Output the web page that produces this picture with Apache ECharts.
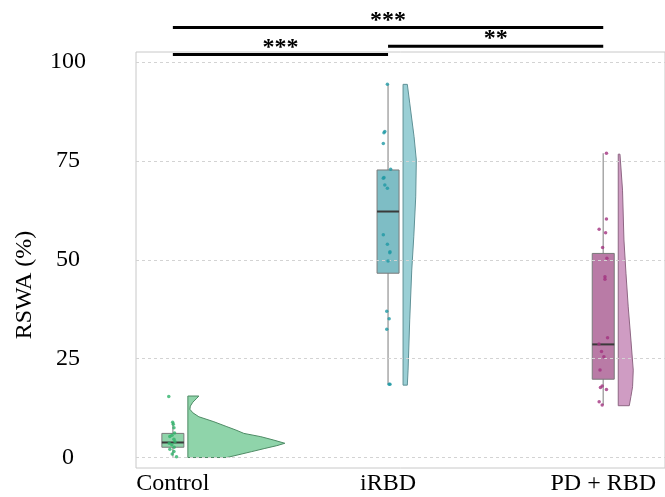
<!DOCTYPE html>
<html><head><meta charset="utf-8">
<script src="https://cdn.jsdelivr.net/npm/echarts@6/dist/echarts.min.js"></script>
<style>html,body{margin:0;padding:0;background:#fff}#c{width:665px;height:497px}</style>
</head><body><div id="c"></div>
<script>
// ---------- data ----------
const categories = ['Control', 'iRBD', 'PD + RBD'];
const yTickValues = [0, 25, 50, 75, 100];
const yAxisTitle = 'RSWA (%)';

// box-plot statistics (per group)
const whiskerLow  = [0.2, 18.5, 13.3];
const quartile1   = [2.6, 46.6, 19.8];
const medians     = [3.8, 62.2, 28.6];
const quartile3   = [6.1, 72.7, 51.6];
const whiskerHigh = [8.9, 94.4, 76.9];

// raw observations and their horizontal jitter (x-axis units)
const controlValues = [15.4, 8.9, 8.4, 7.5, 6.2, 5.6, 5.3, 4.6, 4.0, 3.6, 3.2, 2.6, 2.1, 1.5, 0.9, 0.2];
const controlJitter = [-0.019, -0.001, 0.002, 0.005, 0.008, -0.004, -0.014, 0.005, 0.010, -0.017, -0.005, 0.006, -0.014, 0.005, -0.003, 0.017];
const irbdValues = [94.4, 82.4, 82.1, 79.4, 72.9, 70.8, 70.6, 68.9, 68.1, 56.3, 53.9, 52.0, 51.8, 49.7, 37.0, 35.1, 32.4, 18.5, 18.5];
const irbdJitter = [-0.003, -0.015, -0.019, -0.022, 0.012, -0.019, -0.022, -0.015, -0.003, -0.022, -0.003, 0.009, 0.008, 0.000, -0.006, 0.005, -0.006, 0.005, 0.009];
const pdValues = [76.9, 60.3, 57.7, 56.8, 53.1, 50.4, 45.7, 45.1, 30.3, 28.7, 26.8, 25.5, 22.1, 18.1, 17.7, 17.2, 14.1, 13.3];
const pdJitter = [0.015, 0.015, -0.019, 0.011, -0.003, 0.017, 0.008, 0.008, 0.020, -0.020, -0.008, 0.003, -0.015, -0.005, -0.013, 0.015, -0.019, -0.005];

// half-violin density profiles: [value, density]
const controlDensity = [[15.55, 0.0147], [15.0, 0.0120], [14.0, 0.0067], [13.0, 0.0033], [12.2, 0.0027], [11.3, 0.0067], [10.3, 0.0147], [9.05, 0.0347], [7.8, 0.0520], [6.95, 0.0640], [6.1, 0.0747], [5.27, 0.0973], [4.4, 0.1147], [3.6, 0.1293], [3.0, 0.1187], [2.3, 0.1027], [1.5, 0.0853], [0.0, 0.0520]];
const irbdDensity = [[94.35, 0.0057], [89.6, 0.0089], [81.1, 0.0147], [75.2, 0.0177], [65.9, 0.0169], [55.8, 0.0143], [47.4, 0.0116], [34.8, 0.0089], [22.1, 0.0067], [18.3, 0.0057]];
const pdDensity = [[76.7, 0.0023], [67.6, 0.0057], [55.0, 0.0076], [46.6, 0.0103], [38.1, 0.0133], [29.7, 0.0169], [22.1, 0.0200], [17.9, 0.0191], [15.4, 0.0169], [13.1, 0.0147]];

// significance comparisons: [group a, group b, label]
const sigPairs = [[1, 3, '***'], [1, 2, '***'], [2, 3, '**']];

// ---------- rendering ----------
const densities = [controlDensity, irbdDensity, pdDensity];
const boxFill = ['#8fd4aa', '#7ebdc5', '#b97ba6'];
const violinFill = ['#8fd4aa', '#9acfd5', '#cf9cc3'];
const violinStroke = ['#4d8a64', '#5f9196', '#8e6683'];
const pointColor = ['#2fb36a', '#1f98a4', '#a3327f'];
const FONT = '"Liberation Serif", "Times New Roman", serif';
const VSCALE = 750;       // px per density unit
const BOX_HALF = 11;      // px
const VIOLIN_GAP = 15;    // px from box center
const sigLevels = [108.7, 101.9, 104.0];

const chart = echarts.init(document.getElementById('c'), null, {renderer: 'canvas'});

function renderGroup(params, api) {
  const i = api.value(0);
  const xc = i + 1;
  const px = api.coord([xc, 0])[0];
  const yp = v => api.coord([xc, v])[1];
  const prof = densities[i];
  const x0 = px + VIOLIN_GAP;
  const pts = [[x0, yp(prof[0][0])]];
  prof.forEach(p => pts.push([x0 + p[1] * VSCALE, yp(p[0])]));
  pts.push([x0, yp(prof[prof.length - 1][0])]);
  const yq3 = yp(quartile3[i]), yq1 = yp(quartile1[i]), ym = yp(medians[i]);
  return {
    type: 'group',
    children: [
      {type: 'polygon', shape: {points: pts}, style: {fill: violinFill[i], stroke: violinStroke[i], lineWidth: 1}},
      {type: 'line', shape: {x1: px, y1: yp(whiskerHigh[i]), x2: px, y2: yp(whiskerLow[i])}, style: {stroke: '#a8a8a8', lineWidth: 1.5}},
      {type: 'rect', shape: {x: px - BOX_HALF, y: yq3, width: 2 * BOX_HALF, height: yq1 - yq3}, style: {fill: boxFill[i], stroke: '#7a7a7a', lineWidth: 1}},
      {type: 'line', shape: {x1: px - BOX_HALF, y1: ym, x2: px + BOX_HALF, y2: ym}, style: {stroke: '#3a3a3a', lineWidth: 2}}
    ]
  };
}

function renderSig(params, api) {
  const k = api.value(0);
  const pr = sigPairs[k];
  const lv = sigLevels[k];
  const a = api.coord([pr[0], lv]);
  const b = api.coord([pr[1], lv]);
  return {
    type: 'group',
    children: [
      {type: 'line', shape: {x1: a[0], y1: a[1], x2: b[0], y2: b[1]}, style: {stroke: '#000', lineWidth: 3}},
      {type: 'text', x: (a[0] + b[0]) / 2, y: a[1] - 7, style: {text: pr[2], fill: '#000', font: 'bold 24px ' + FONT, align: 'center', verticalAlign: 'middle'}}
    ]
  };
}

function pts(vals, jit, g) { return vals.map((v, j) => [g + 1 + jit[j], v]); }

chart.setOption({
  animation: false,
  grid: {left: 136, right: -2, top: 52, bottom: 29, show: true, borderColor: '#c8c8c8', borderWidth: 1, backgroundColor: 'transparent'},
  xAxis: {
    type: 'value', min: 0.8287, max: 3.287,
    axisLine: {show: false}, axisTick: {show: false}, splitLine: {show: false},
    axisLabel: {customValues: [1, 2, 3], formatter: v => categories[Math.round(v) - 1] || '', color: '#000', fontFamily: FONT, fontSize: 24, margin: 4}
  },
  yAxis: {
    type: 'value', min: -2.65, max: 102.53,
    axisLine: {show: false}, axisTick: {show: false}, splitLine: {show: false},
    axisLabel: {customValues: yTickValues, color: '#000', fontFamily: FONT, fontSize: 24, align: 'center', margin: 68}
  },
  graphic: [{type: 'text', x: 25, y: 285, rotation: Math.PI / 2, style: {text: yAxisTitle, font: '24px ' + FONT, fill: '#000', align: 'center', verticalAlign: 'middle'}}],
  series: [
    {
      type: 'custom', renderItem: () => ({type: 'group', children: []}), data: [[0]], z: 1, silent: true,
      markLine: {silent: true, symbol: 'none', label: {show: false}, lineStyle: {type: [3, 3], color: '#d3d3d3', width: 1}, data: yTickValues.map(v => ({yAxis: v}))}
    },
    {type: 'custom', renderItem: renderGroup, data: [[0], [1], [2]], z: 3, silent: true},
    {type: 'scatter', data: pts(controlValues, controlJitter, 0), symbolSize: 3.5, itemStyle: {color: pointColor[0], opacity: 0.8}, z: 5, silent: true},
    {type: 'scatter', data: pts(irbdValues, irbdJitter, 1), symbolSize: 3.5, itemStyle: {color: pointColor[1], opacity: 0.8}, z: 5, silent: true},
    {type: 'scatter', data: pts(pdValues, pdJitter, 2), symbolSize: 3.5, itemStyle: {color: pointColor[2], opacity: 0.8}, z: 5, silent: true},
    {type: 'custom', renderItem: renderSig, data: [[0], [1], [2]], z: 6, clip: false, silent: true}
  ]
});
</script></body></html>
